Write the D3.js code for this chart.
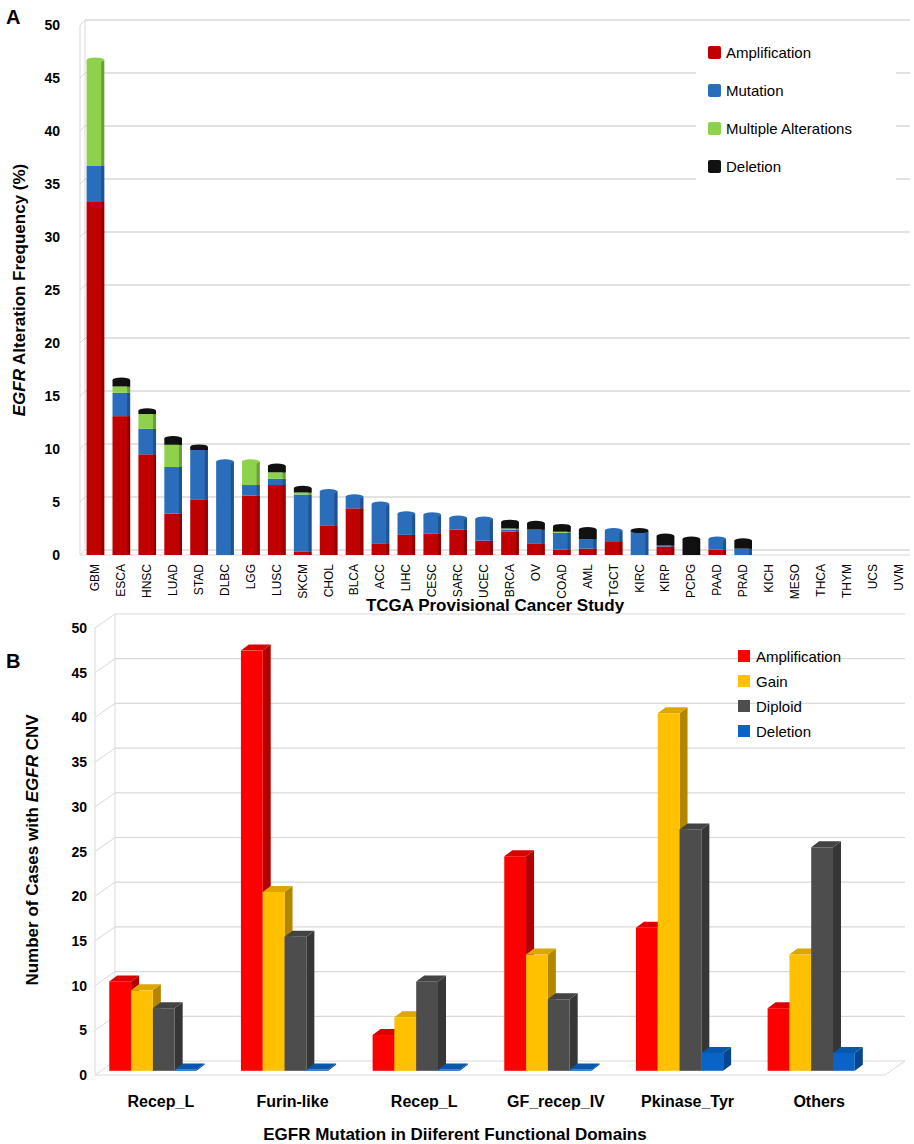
<!DOCTYPE html>
<html><head><meta charset="utf-8">
<script src="https://cdn.jsdelivr.net/npm/d3@7"></script>
<style>body{margin:0;background:#fff;font-family:Arial,"Liberation Sans",sans-serif}</style>
</head><body><svg id="c" width="914" height="1144"></svg>
<script>
// Panel A data
const studies = ["GBM","ESCA","HNSC","LUAD","STAD","DLBC","LGG","LUSC","SKCM","CHOL","BLCA","ACC","LIHC","CESC","SARC","UCEC","BRCA","OV","COAD","AML","TGCT","KIRC","KIRP","PCPG","PAAD","PRAD","KICH","MESO","THCA","THYM","UCS","UVM"];
const amplification = [33.3,13.1,9.5,3.9,5.2,0,5.6,6.6,0.3,2.8,4.4,1.1,1.9,2.0,2.4,1.35,2.2,1.1,0.5,0.6,1.3,0,0.8,0,0.5,0,0,0,0,0,0,0];
const mutation =      [3.4,2.2,2.4,4.4,4.7,8.8,1.0,0.6,5.4,3.2,1.1,3.7,2.0,1.8,1.1,2.05,0.2,1.3,1.6,0.9,1.0,2.2,0.1,0,1.0,0.6,0,0,0,0,0,0];
const multiple =      [10,0.6,1.4,2.1,0,0,2.2,0.6,0.2,0,0,0,0,0,0,0,0.1,0,0.1,0,0,0,0,0,0,0,0,0,0,0,0,0];
const deletion =      [0,0.6,0.3,0.6,0.3,0,0,0.6,0.4,0,0,0,0,0,0,0,0.6,0.6,0.5,0.9,0,0.1,0.9,1.5,0,0.75,0,0,0,0,0,0];
const seriesA = ["Amplification","Mutation","Multiple Alterations","Deletion"];
const colorsA = ["#c00000","#2a6ebb","#8ed14b","#111111"];
const ticksA = d3.range(0,51,5);

// Panel B data
const domains = ["Recep_L","Furin-like","Recep_L ","GF_recep_IV","Pkinase_Tyr","Others"];
const seriesB = ["Amplification","Gain","Diploid","Deletion"];
const valuesB = [
  [10,9,7,0],
  [47,20,15,0],
  [4,6,10,0],
  [24,13,8,0],
  [16,40,27,2],
  [7,13,25,2]
];
const colorsB = ["#ff0000","#ffc000","#4d4d4d","#0a64c8"];
const ticksB = d3.range(0,51,5);

const svg = d3.select("#c");
const shade = (c,k) => d3.color(c).darker(k).formatHex();

// ---------- Panel A ----------
{
  const L=80, R=910, T=25, B=555, D=5;
  const x = d3.scaleBand().domain(studies).range([L+4,R]).paddingInner(0.32).paddingOuter(0.1);
  const y = d3.scaleLinear().domain([0,50]).range([B,T]);
  const g = svg.append("g");
  g.selectAll("line.grid").data(ticksA).join("line")
    .attr("x1",L+D).attr("x2",R).attr("y1",d=>y(d)-D).attr("y2",d=>y(d)-D)
    .attr("stroke","#d9d9d9").attr("stroke-width",1.3);
  g.selectAll("line.gl").data(ticksA).join("line")
    .attr("x1",L).attr("x2",L+D).attr("y1",d=>y(d)).attr("y2",d=>y(d)-D).attr("stroke","#d9d9d9");
  g.append("line").attr("x1",L+D).attr("x2",L+D).attr("y1",y(50)-D).attr("y2",B-D).attr("stroke","#d9d9d9");
  g.append("line").attr("x1",L).attr("x2",L).attr("y1",y(50)).attr("y2",B).attr("stroke","#d9d9d9");
  g.append("line").attr("x1",L).attr("x2",R).attr("y1",B).attr("y2",B).attr("stroke","#d9d9d9");
  g.selectAll("text.yt").data(ticksA).join("text")
    .attr("x",L-20).attr("y",d=>y(d)+5).attr("text-anchor","end")
    .attr("font-size",14).attr("font-weight","bold").text(d=>d);

  const rows = studies.map((s,i)=>({s,vals:[amplification[i],mutation[i],multiple[i],deletion[i]]}));
  rows.forEach(r=>{
    let acc=0; const bw=x.bandwidth(), x0=x(r.s);
    r.vals.forEach((v,k)=>{
      if(v<=0) return;
      const y0=y(acc), y1=y(acc+v); acc+=v;
      g.append("rect").attr("x",x0).attr("y",y1).attr("width",bw).attr("height",y0-y1).attr("fill",colorsA[k]);
      g.append("rect").attr("x",x0+bw-3).attr("y",y1).attr("width",3).attr("height",y0-y1).attr("fill",shade(colorsA[k],0.8));
    });
    if(acc>0){
      const top=r.vals.map((v,k)=>v>0?k:-1).filter(k=>k>=0).pop();
      g.append("ellipse").attr("cx",x0+bw/2).attr("cy",y(acc)).attr("rx",bw/2).attr("ry",2.5).attr("fill",colorsA[top]);
    }
  });
  g.selectAll("text.xt").data(studies).join("text")
    .attr("transform",d=>`translate(${x(d)+x.bandwidth()/2+4},564) rotate(-90)`)
    .attr("text-anchor","end").attr("font-size",12).text(d=>d);
  svg.append("text").attr("x",495).attr("y",611).attr("text-anchor","middle")
    .attr("font-size",17).attr("font-weight","bold").text("TCGA Provisional Cancer Study");
  svg.append("text").attr("transform","translate(25,290) rotate(-90)").attr("text-anchor","middle")
    .attr("font-size",17).attr("font-weight","bold")
    .html('<tspan font-style="italic">EGFR</tspan> Alteration Frequency (%)');
  svg.append("text").attr("x",6).attr("y",24).attr("font-size",20).attr("font-weight","bold").text("A");
  const lg = svg.append("g").attr("transform","translate(708,46)");
  lg.append("rect").attr("x",-12).attr("y",-12).attr("width",200).attr("height",150).attr("fill","#fff");
  seriesA.forEach((s,i)=>{
    lg.append("rect").attr("x",0).attr("y",i*38).attr("width",13).attr("height",13).attr("rx",2).attr("fill",colorsA[i]);
    lg.append("text").attr("x",18).attr("y",i*38+12).attr("font-size",15).text(s);
  });
}

// ---------- Panel B ----------
{
  const L=95, R=905, T=614, B=1075, DX=20, DY=14, dx=8, dy=6;
  const y = d3.scaleLinear().domain([0,50]).range([B,T+DY]);
  const x = d3.scaleBand().domain(domains).range([L+DX,R]).paddingInner(0.08).paddingOuter(0.04);
  const xs = d3.scaleBand().domain(seriesB).range([0,x.bandwidth()*0.72]);
  const g = svg.append("g");
  g.selectAll("line.grid").data(ticksB).join("line")
    .attr("x1",L+DX).attr("x2",R).attr("y1",d=>y(d)-DY).attr("y2",d=>y(d)-DY)
    .attr("stroke","#d9d9d9").attr("stroke-width",1.2);
  g.selectAll("line.gl").data(ticksB).join("line")
    .attr("x1",L).attr("x2",L+DX).attr("y1",d=>y(d)).attr("y2",d=>y(d)-DY).attr("stroke","#d9d9d9");
  g.append("line").attr("x1",L+DX).attr("x2",L+DX).attr("y1",y(50)-DY).attr("y2",B-DY).attr("stroke","#d9d9d9");
  g.append("line").attr("x1",L).attr("x2",L).attr("y1",y(50)).attr("y2",B).attr("stroke","#d9d9d9");
  g.append("line").attr("x1",L).attr("x2",R-DX).attr("y1",B).attr("y2",B).attr("stroke","#d9d9d9");
  g.append("line").attr("x1",R-DX).attr("x2",R).attr("y1",B).attr("y2",B-DY).attr("stroke","#d9d9d9");
  g.selectAll("text.yt").data(ticksB).join("text")
    .attr("x",L-8).attr("y",d=>y(d)+5).attr("text-anchor","end")
    .attr("font-size",14).attr("font-weight","bold").text(d=>d);

  domains.forEach((dname,gi)=>{
    const gx = x(dname) - DX*0.55;
    valuesB[gi].forEach((v,k)=>{
      const bx = gx + xs(seriesB[k]), bw = xs.bandwidth();
      const yt = y(Math.max(v,0.15)) - DY*0.3, yb = B - DY*0.3;
      const c = colorsB[k];
      g.append("path").attr("d",`M${bx+bw},${yt}L${bx+bw+dx},${yt-dy}L${bx+bw+dx},${yb-dy}L${bx+bw},${yb}Z`).attr("fill",shade(c,1));
      g.append("path").attr("d",`M${bx},${yt}L${bx+dx},${yt-dy}L${bx+bw+dx},${yt-dy}L${bx+bw},${yt}Z`).attr("fill",shade(c,0.4));
      g.append("rect").attr("x",bx).attr("y",yt).attr("width",bw).attr("height",yb-yt).attr("fill",c);
    });
    g.append("text").attr("x",gx+xs.range()[1]/2+8).attr("y",1107).attr("text-anchor","middle")
      .attr("font-size",16).attr("font-weight","bold").text(dname.trim());
  });
  svg.append("text").attr("x",455).attr("y",1140).attr("text-anchor","middle")
    .attr("font-size",17).attr("font-weight","bold").text("EGFR Mutation in Diiferent Functional Domains");
  svg.append("text").attr("transform","translate(38,850) rotate(-90)").attr("text-anchor","middle")
    .attr("font-size",17).attr("font-weight","bold")
    .html('Number of Cases with <tspan font-style="italic">EGFR</tspan> CNV');
  svg.append("text").attr("x",6).attr("y",668).attr("font-size",20).attr("font-weight","bold").text("B");
  const lg = svg.append("g").attr("transform","translate(738,650)");
  seriesB.forEach((s,i)=>{
    lg.append("rect").attr("x",0).attr("y",i*25).attr("width",12).attr("height",12).attr("fill",colorsB[i]);
    lg.append("text").attr("x",18).attr("y",i*25+12).attr("font-size",15).text(s);
  });
}
</script></body></html>
